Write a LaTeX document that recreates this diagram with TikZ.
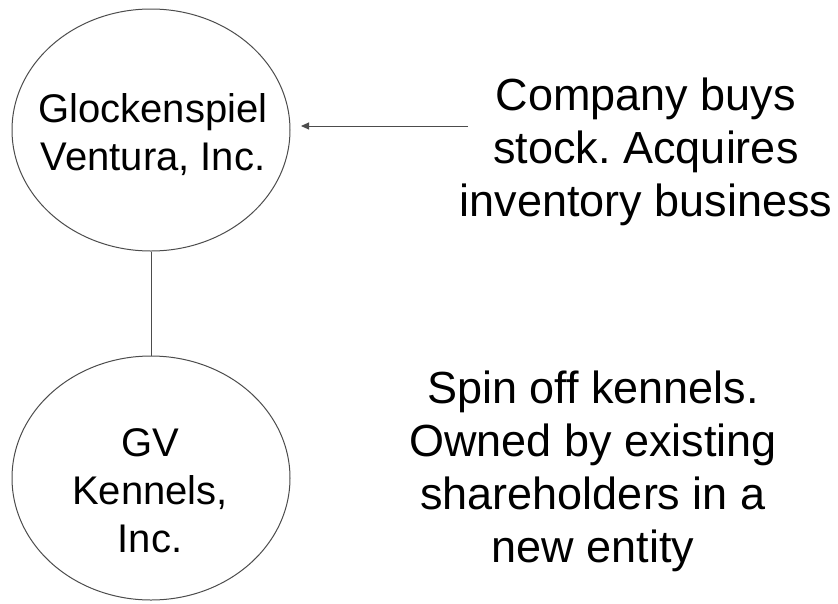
\documentclass[tikz,border=0pt]{standalone}
\usepackage{fontspec}
\setmainfont{Liberation Sans}
\usetikzlibrary{shapes.geometric,arrows.meta}
\frenchspacing
\tikzset{
  entity/.style={ellipse, draw=black!70, line width=1pt, minimum width=278pt, minimum height=242pt, inner sep=0pt},
  intext/.style={align=center, font=\fontsize{40}{48}\selectfont, inner sep=0pt},
  note/.style={align=center, font=\fontsize{45}{53}\selectfont, inner sep=0pt},
  link/.style={draw=black!70, line width=1pt},
  pointer/.style={draw=black!70, line width=1pt, -{Triangle[length=8pt,width=7pt]}}
}
\begin{document}
\begin{tikzpicture}[x=1pt,y=-1pt]
\useasboundingbox (0,0) rectangle (838,603);
\node[entity] (gvi) at (151,130) {};
\node[entity, minimum height=244pt] (gvk) at (151,478) {};
\node[intext] (gvit) at (153,134.5) {Glockenspiel\\Ventura, Inc.};
\node[intext] (gvkt) at (150,491) {GV\\Kennels,\\Inc.};
\node[note] (buy) at (646,152) {Company buys\\stock. Acquires\\inventory business};
\node[note] (spin) at (593,471) {Spin off kennels.\\Owned by existing\\shareholders in a\\new entity};
\coordinate (tail) at (468,126);
\coordinate (tip) at (301,126);
\draw[link] (gvi.south) -- (gvk.north);
\draw[pointer] (tail) -- (tip);
\end{tikzpicture}
\end{document}
